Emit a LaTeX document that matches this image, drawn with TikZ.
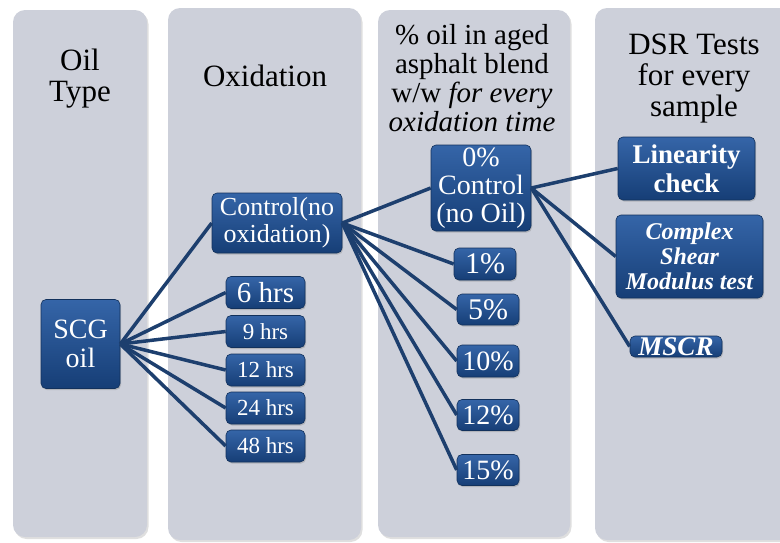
\documentclass[tikz,border=0pt]{standalone}
\usepackage{fontspec}
\setmainfont{Liberation Serif}
\usetikzlibrary{shadows}
\definecolor{panelgray}{HTML}{CDD0DA}
\definecolor{boxtop}{HTML}{3565A8}
\definecolor{boxmid}{HTML}{1D4B8B}
\definecolor{boxbottom}{HTML}{163E76}
\definecolor{boxedge}{HTML}{12315C}
\definecolor{linknavy}{HTML}{1D3F6E}

\begin{document}
\begin{tikzpicture}[x=1pt, y=-1pt,
  panel/.style={fill=panelgray, rounded corners=12pt,
    drop shadow={shadow xshift=1.5pt, shadow yshift=-2pt, opacity=0.25}},
  title/.style={align=center, inner sep=0pt, text=black},
  box/.style={rectangle, rounded corners=5pt, top color=boxtop, middle color=boxmid,
    bottom color=boxbottom, draw=boxedge, line width=0.6pt, text=white, align=center,
    inner sep=0pt, drop shadow={shadow xshift=1pt, shadow yshift=-1.5pt, opacity=0.35}},
  link/.style={linknavy, line width=3.5pt}]
  \useasboundingbox (0,0) rectangle (780,542);

  % Panels
  \path[panel] (13,10) rectangle (147,537);
  \path[panel] (168,8) rectangle (361,540);
  \path[panel] (378,10) rectangle (570,537);
  \path[panel] (595,8) rectangle (800,540);

  % Column titles
  \node[title, font=\fontsize{31}{31}\selectfont] (tOil) at (80,79) {Oil\\Type};
  \node[title, font=\fontsize{31}{31}\selectfont] (tOx) at (265,76) {Oxidation};
  \node[title, font=\fontsize{29}{29}\selectfont] (tBlend) at (472,78)
    {\% oil in aged\\asphalt blend\\w/w \textit{for every}\\\textit{oxidation time}};
  \node[title, font=\fontsize{31}{31}\selectfont] (tDSR) at (694,79) {DSR Tests\\for every\\sample};

  % Oil type
  \node[box, minimum width=79pt, minimum height=89pt, font=\fontsize{28}{29}\selectfont]
    (scg) at (80.5,344) {SCG\\oil};

  % Oxidation times
  \node[box, minimum width=130pt, minimum height=60pt, font=\fontsize{26}{27}\selectfont]
    (ctrl) at (277,223) {Control(no\\oxidation)};
  \node[box, minimum width=79pt, minimum height=32pt, font=\fontsize{29}{29}\selectfont]
    (h6) at (265.5,292.5) {6 hrs};
  \node[box, minimum width=79pt, minimum height=32pt, font=\fontsize{23}{23}\selectfont]
    (h9) at (265.5,331.5) {9 hrs};
  \node[box, minimum width=79pt, minimum height=32pt, font=\fontsize{23}{23}\selectfont]
    (h12) at (265.5,370) {12 hrs};
  \node[box, minimum width=79pt, minimum height=32pt, font=\fontsize{23}{23}\selectfont]
    (h24) at (265.5,408) {24 hrs};
  \node[box, minimum width=79pt, minimum height=32pt, font=\fontsize{23}{23}\selectfont]
    (h48) at (265.5,446) {48 hrs};

  % Oil percentages
  \node[box, minimum width=100pt, minimum height=86pt, font=\fontsize{28}{28}\selectfont]
    (p0) at (481,188) {0\%\\Control\\(no Oil)};
  \node[box, minimum width=62pt, minimum height=32pt, font=\fontsize{30}{30}\selectfont]
    (p1) at (485,264) {1\%};
  \node[box, minimum width=62pt, minimum height=31pt, font=\fontsize{30}{30}\selectfont]
    (p5) at (488,309.5) {5\%};
  \node[box, minimum width=62pt, minimum height=32pt, font=\fontsize{28}{28}\selectfont]
    (p10) at (488,361) {10\%};
  \node[box, minimum width=62pt, minimum height=31pt, font=\fontsize{28}{28}\selectfont]
    (p12) at (488,415) {12\%};
  \node[box, minimum width=62pt, minimum height=31pt, font=\fontsize{28}{28}\selectfont]
    (p15) at (488,470) {15\%};

  % DSR tests
  \node[box, minimum width=137pt, minimum height=63pt, font=\fontsize{27}{29}\selectfont\bfseries]
    (lin) at (686.5,168.5) {Linearity\\check};
  \node[box, minimum width=147pt, minimum height=83pt, font=\fontsize{24}{25}\selectfont\bfseries\itshape]
    (csm) at (689.5,256.5) {Complex\\Shear\\Modulus test};
  \node[box, minimum width=92pt, minimum height=21pt, font=\fontsize{27}{27}\selectfont\bfseries\itshape]
    (mscr) at (676,346.5) {MSCR};

  % Links
  \foreach \n in {ctrl,h6,h9,h12,h24,h48}
    \draw[link] (scg.east) -- (\n.west);
  \foreach \n in {p0,p1,p5,p10,p12,p15}
    \draw[link] (ctrl.east) -- (\n.west);
  \foreach \n in {lin,csm,mscr}
    \draw[link] (p0.east) -- (\n.west);
\end{tikzpicture}
\end{document}
